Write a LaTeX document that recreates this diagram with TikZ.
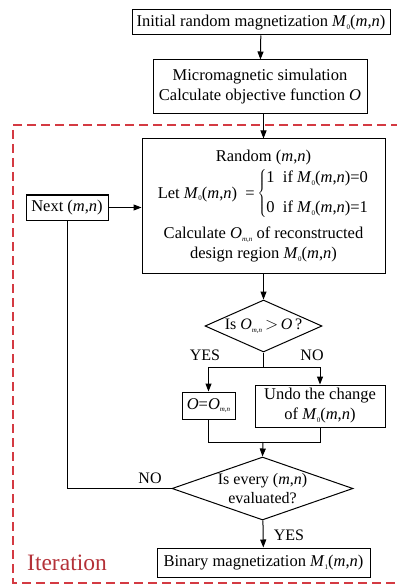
\documentclass[tikz,border=0pt]{standalone}
\usepackage{fontspec}
\setmainfont{Liberation Serif}
\usetikzlibrary{shapes.geometric,arrows.meta}
\definecolor{iterred}{RGB}{212,58,66}
\newcommand{\sub}[1]{\raisebox{-0.35ex}{\fontsize{7}{7}\selectfont#1}}
\newcommand{\Mz}{\textit{M}\sub{0}(\textit{m},\textit{n})}
\newcommand{\Mo}{\textit{M}\sub{1}(\textit{m},\textit{n})}
\newcommand{\Omn}{\textit{O}\sub{\textit{m},\textit{n}}}

\begin{document}
\begin{tikzpicture}[x=1pt,y=-1pt,
  box/.style={draw,line width=1pt,inner sep=1pt,align=center,font=\fontsize{16.5}{20}\selectfont},
  dia/.style={draw,diamond,line width=1pt,inner sep=0pt,align=center,font=\fontsize{16}{19}\selectfont},
  flow/.style={line width=1pt,-{Triangle[length=8pt,width=6pt]}},
  link/.style={line width=1pt},
  lbl/.style={font=\fontsize{16}{18}\selectfont},
  frame/.style={iterred,line width=1.5pt,dash pattern=on 9pt off 5pt}]
\useasboundingbox (0,0) rectangle (396,585);

\node[box,minimum width=258,minimum height=25] (init) at (261,22.5) {Initial random magnetization \Mz};
\node[box,minimum width=214,minimum height=54] (sim) at (260,87) {Micromagnetic simulation\\Calculate objective function \textit{O}};
\node[box,minimum width=243,minimum height=134] (main) at (263.5,206) {Random (\textit{m},\textit{n})\\[3pt]
  Let \Mz\ \ =\,$\left\{\begin{tabular}{@{}l@{}}1\ \ if \Mz=0\\[10pt]0\ \ if \Mz=1\end{tabular}\right.$\\[7pt]
  Calculate \Omn\ of reconstructed\\design region \Mz};
\node[box,minimum width=82,minimum height=25] (next) at (67,207.5) {Next (\textit{m},\textit{n})};
\node[dia,aspect=2.3,minimum width=117,minimum height=52] (ask) at (263.5,326) {Is \Omn$\,>$\,\textit{O}\,?};
\node[box,minimum width=53,minimum height=27] (update) at (208.5,405.5) {\textit{O}=\Omn};
\node[box,minimum width=130,minimum height=42] (undo) at (320,406) {Undo the change\\of \Mz};
\node[dia,aspect=2.9,minimum width=181,minimum height=63] (check) at (262.5,488.5) {Is every (\textit{m},\textit{n})\\evaluated?};
\node[box,minimum width=213,minimum height=29] (final) at (263.5,562.5) {Binary magnetization \Mo};

\node[lbl] (yes1) at (205,355) {YES};
\node[lbl] (no1) at (312,355) {NO};
\node[lbl] (no2) at (150,478) {NO};
\node[lbl] (yes2) at (289,535) {YES};
\node[font=\fontsize{23.5}{26}\selectfont,text=iterred!85!black] (iter) at (67,563) {Iteration};

\coordinate (fork) at (263.5,367);
\coordinate (merge) at (263,442);

\draw[flow] (init) -- (sim);
\draw[flow] (sim.south -| main.north) -- (main);
\draw[flow] (next.east) -- (next.east -| main.west);
\draw[flow] (main) -- (ask);
\draw[link] (ask.south) -- (fork);
\draw[flow] (fork) -| (update.north);
\draw[flow] (fork) -| (undo.north);
\draw[link] (update.south) |- (merge);
\draw[link] (undo.south) |- (merge);
\draw[flow] (merge) -- (check.north);
\draw[flow] (check) -- (final);
\draw[link] (check.west) -| (next.south);

\draw[frame] (400,125) -| (13,583) -- (400,583);
\end{tikzpicture}
\end{document}
